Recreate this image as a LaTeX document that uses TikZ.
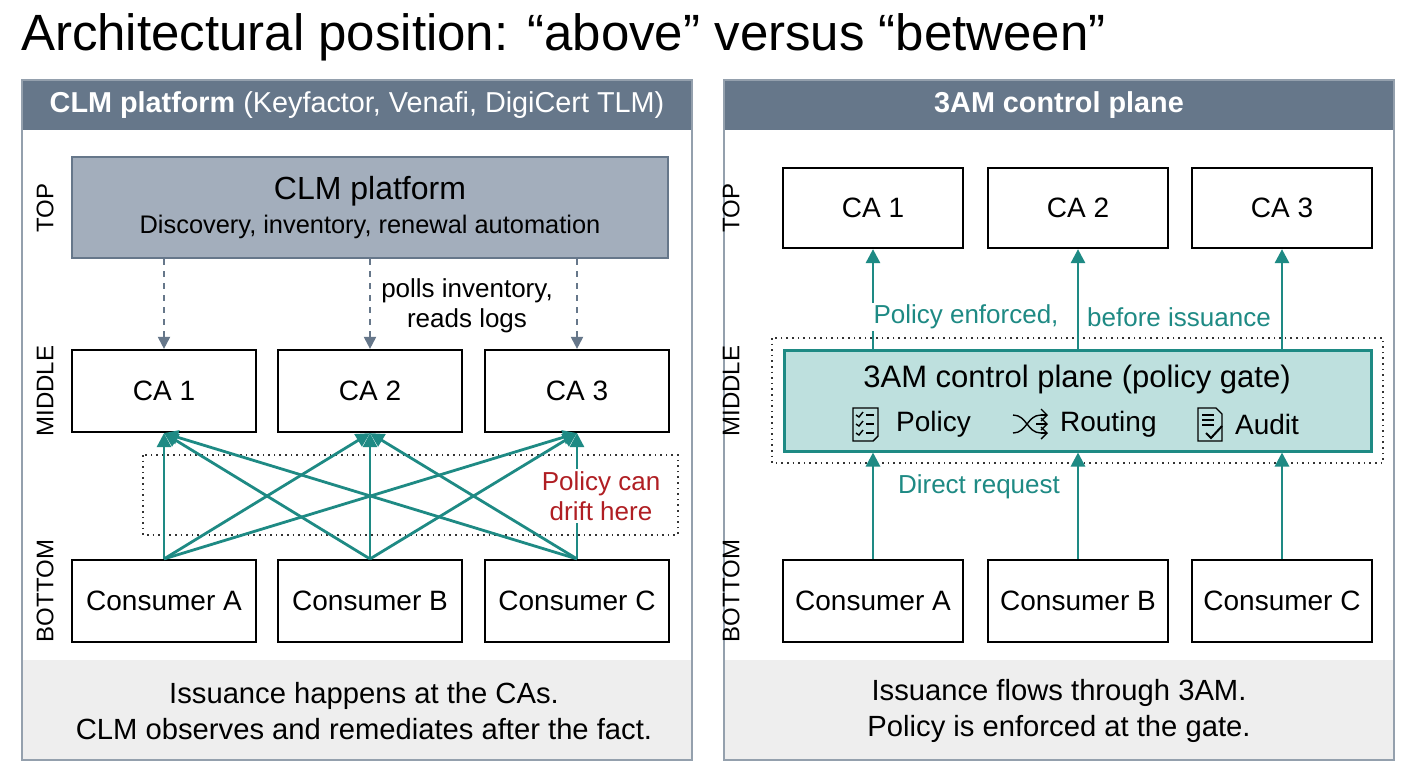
\documentclass[tikz,border=0pt]{standalone}
\usepackage{fontspec}
\setmainfont{Liberation Sans}
\usetikzlibrary{arrows.meta}
\definecolor{slate}{HTML}{66778A}
\definecolor{slatefill}{HTML}{A3AEBC}
\definecolor{teal3}{HTML}{1E8A84}
\definecolor{gatefill}{HTML}{BEE0DE}
\definecolor{drift}{HTML}{B01E23}
\definecolor{footgray}{HTML}{EEEEEE}
\tikzset{
    panel/.style={draw=slate!70, line width=0.8pt},
    box/.style={draw=black, line width=1.1pt, fill=white, inner sep=0pt, font=\fontsize{14}{16}\selectfont},
    side/.style={rotate=90, font=\fontsize{12}{14}\selectfont},
    observe/.style={draw=slate, dashed, line width=1pt, -{Triangle[width=6pt,length=6pt]}},
    issue/.style={draw=teal3, line width=1.4pt, -{Triangle[width=7pt,length=7pt]}},
    zone/.style={draw=black!80, dotted, line width=0.8pt},
    foot/.style={font=\fontsize{14.6}{18}\selectfont, align=center},
    note/.style={font=\fontsize{13}{15}\selectfont, align=center}
}
\begin{document}
\begin{tikzpicture}[x=0.5pt, y=-0.5pt]
    \useasboundingbox (0,0) rectangle (1408,768);
    \fill[white] (0,0) rectangle (1408,768);

    \node[anchor=base west, font=\fontsize{25.5}{30}\selectfont] (title) at (14,50)
        {Architectural position: “above” versus “between”};

    %% CLM platform (left)
    \begin{scope}
        \fill[footgray] (22,660) rectangle (692,760);
        \fill[slate] (22,80) rectangle (692,130);
        \draw[panel] (22,80) rectangle (692,760);
        \node[text=white, font=\fontsize{14.4}{17}\selectfont] (lhead) at (357,105)
            {\textbf{CLM platform} (Keyfactor, Venafi, DigiCert TLM)};

        \node[side] (ltop) at (45,208) {TOP};
        \node[side] (lmid) at (45,391) {MIDDLE};
        \node[side] (lbot) at (45,591) {BOTTOM};

        \node[box, fill=slatefill, draw=slate, minimum width=298pt, minimum height=50.5pt, align=center] (clm) at (370,207.5)
            {\fontsize{16}{19}\selectfont CLM platform\\[1pt]\fontsize{12.7}{15}\selectfont Discovery, inventory, renewal automation};

        \draw[zone] (143,455) rectangle (678,535);

        \foreach \i/\x in {1/164, 2/370, 3/577} {
            \node[box, minimum width=92pt, minimum height=41pt] (lca\i) at (\x,391) {CA \i};
        }
        \foreach \i/\x in {A/164, B/370, C/577} {
            \node[box, minimum width=92pt, minimum height=41pt] (lcon\i) at (\x,601) {Consumer \i};
        }

        \foreach \i in {1,2,3} {
            \draw[observe] (clm.south -| lca\i) -- (lca\i.north);
        }
        \node[note] (polls) at (467,306) {polls inventory,\\reads logs};

        \foreach \c in {A,B,C} {
            \foreach \i in {1,2,3} {
                \draw[issue] (lcon\c.north) -- (lca\i.south);
            }
        }
        \node[note, text=drift, fill=white, inner sep=1pt] (driftnote) at (601,496) {Policy can\\drift here};

        \node[foot] (lfoot) at (364,711) {Issuance happens at the CAs.\\CLM observes and remediates after the fact.};
    \end{scope}

    %% 3AM control plane (right)
    \begin{scope}[xshift=351pt]
        \fill[footgray] (22,660) rectangle (692,760);
        \fill[slate] (22,80) rectangle (692,130);
        \draw[panel] (22,80) rectangle (692,760);
        \node[text=white, font=\fontsize{14.4}{17}\selectfont\bfseries] (rhead) at (357,105) {3AM control plane};

        \node[side] (rtop) at (29,208) {TOP};
        \node[side] (rmid) at (29,391) {MIDDLE};
        \node[side] (rbot) at (29,591) {BOTTOM};

        \draw[zone] (70,338) rectangle (681,463);
        \node[box, fill=gatefill, draw=teal3, line width=1.5pt, minimum width=293.5pt, minimum height=50.5pt] (gate) at (375.5,400.5) {};
        \node[font=\fontsize{15.5}{18}\selectfont] (gatetitle) at (375,379) {3AM control plane (policy gate)};

        % icons
        \begin{scope}[xshift=11pt, line width=0.7pt]
            \draw (129,408) -- (154,408) -- (154,436) -- (149,441) -- (129,441) -- cycle;
            \foreach \y in {415,424,433} { \draw (132,\y) -- (135,\y+2) -- (139,\y-3); \draw (142,\y) -- (150,\y); }
            \draw (289,433) .. controls (303,433) and (303,415) .. (317,415);
            \draw (289,415) .. controls (303,415) and (303,433) .. (317,433);
            \draw[-{Straight Barb[length=3pt]}] (317,415) -- (324,415);
            \draw[-{Straight Barb[length=3pt]}] (317,433) -- (324,433);
            \draw[-{Straight Barb[length=3pt]}] (312,424) -- (324,424);
            \draw (474,408) -- (492,408) -- (498,414) -- (498,441) -- (474,441) -- cycle;
            \foreach \y in {415,420,425} { \draw (478,\y) -- (490,\y); }
            \draw[line width=1pt] (482,433) -- (487,438) -- (498,426);
        \end{scope}
        \node[font=\fontsize{14}{16}\selectfont, anchor=west] (policy) at (187,424) {Policy};
        \node[font=\fontsize{14}{16}\selectfont, anchor=west] (routing) at (351,424) {Routing};
        \node[font=\fontsize{14}{16}\selectfont, anchor=west] (audit) at (526,424) {Audit};

        \foreach \i/\x in {1/171, 2/376, 3/580} {
            \node[box, minimum width=90pt, minimum height=40pt] (rca\i) at (\x,208) {CA \i};
        }
        \foreach \i/\x in {A/171, B/376, C/580} {
            \node[box, minimum width=90pt, minimum height=41pt] (rcon\i) at (\x,601) {Consumer \i};
        }

        \foreach \c/\i in {A/1, B/2, C/3} {
            \draw[issue] (rcon\c.north) -- (rcon\c.north |- gate.south);
            \draw[issue] (rca\i.south |- gate.north) -- (rca\i.south);
        }
        \node[note, text=teal3, fill=white, inner sep=1pt] (enforced) at (264,317) {Policy enforced,};
        \node[note, text=teal3, fill=white, inner sep=1pt] (before) at (477,317) {before issuance};
        \node[note, text=teal3] (direct) at (277,487) {Direct request};

        \node[foot] (rfoot) at (357,711) {Issuance flows through 3AM.\\Policy is enforced at the gate.};
    \end{scope}

\end{tikzpicture}
\end{document}
